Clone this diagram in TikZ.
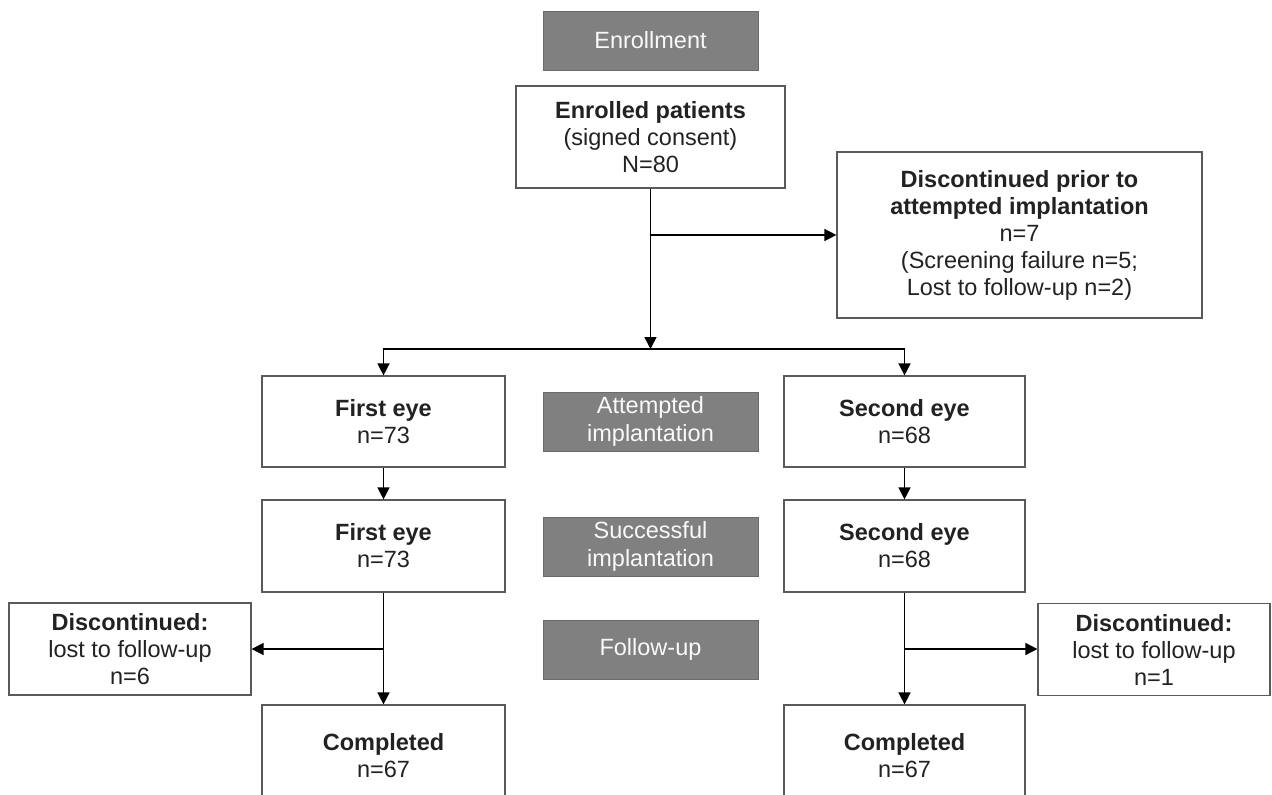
\documentclass[tikz,border=0pt]{standalone}
\usepackage{fontspec}
\setmainfont{Liberation Sans}
\usetikzlibrary{arrows.meta}
\definecolor{boxline}{HTML}{5A5A5A}
\definecolor{grayfill}{HTML}{808080}
\definecolor{grayline}{HTML}{6A6A6A}
\definecolor{txt}{HTML}{222222}
\begin{document}
\begin{tikzpicture}[x=1pt,y=-1pt,
  wbox/.style={draw=boxline,line width=1.2pt,fill=white,align=center,inner sep=0pt,
     font=\fontsize{23.5}{27}\selectfont,text=txt},
  gbox/.style={draw=grayline,line width=1pt,fill=grayfill,align=center,inner sep=0pt,
     minimum width=215pt,minimum height=59pt,font=\fontsize{23.5}{28}\selectfont,text=white!95!gray},
  conn/.style={line width=1.5pt,black},
  arr/.style={conn,-{Triangle[length=12pt,width=12pt]}}]
\useasboundingbox (0,0) rectangle (1272,795);
\clip (0,0) rectangle (1272,795);
\fill[white] (0,0) rectangle (1272,795);

\node[gbox] (enr) at (650.5,40.5) {Enrollment};
\node[wbox,minimum width=269pt,minimum height=102pt] (enrolled) at (650.5,137)
  {\textbf{Enrolled patients}\\(signed consent)\\N=80};
\node[wbox,minimum width=365pt,minimum height=166pt] (dprior) at (1019.5,235)
  {\textbf{Discontinued prior to}\\\textbf{attempted implantation}\\n=7\\(Screening failure n=5;\\Lost to follow-up n=2)};

\node[wbox,minimum width=243pt,minimum height=91pt] (fa) at (383.5,421.5) {\textbf{First eye}\\n=73};
\node[gbox] (att) at (650.5,421.5) {Attempted\\implantation};
\node[wbox,minimum width=241pt,minimum height=91pt] (sa) at (904.5,421.5) {\textbf{Second eye}\\n=68};

\node[wbox,minimum width=243pt,minimum height=92pt] (fb) at (383.5,546) {\textbf{First eye}\\n=73};
\node[gbox] (succ) at (650.5,546.5) {Successful\\implantation};
\node[wbox,minimum width=241pt,minimum height=92pt] (sb) at (904.5,546) {\textbf{Second eye}\\n=68};

\node[wbox,minimum width=242pt,minimum height=92pt] (dl) at (130,649) {\textbf{Discontinued:}\\lost to follow-up\\n=6};
\node[gbox] (fu) at (650.5,649.5) {Follow-up};
\node[wbox,minimum width=232pt,minimum height=92pt] (dr) at (1154,649.5) {\textbf{Discontinued:}\\lost to follow-up\\n=1};

\node[wbox,minimum width=243pt,minimum height=101pt] (cl) at (383.5,755.5) {\textbf{Completed}\\n=67};
\node[wbox,minimum width=241pt,minimum height=101pt] (cr) at (904.5,755.5) {\textbf{Completed}\\n=67};

\coordinate (split) at (650.5,349);
\coordinate (bprior) at (650.5,235);
\coordinate (bl) at (383.5,649);
\coordinate (br) at (904.5,649);

\draw[arr] (enrolled.south) -- (split);
\draw[arr] (bprior) -- (dprior.west |- bprior);
\draw[arr] (split) -| (fa.north);
\draw[arr] (split) -| (sa.north);
\draw[arr] (fa.south) -- (fb.north);
\draw[arr] (sa.south) -- (sb.north);
\draw[arr] (fb.south) -- (cl.north);
\draw[arr] (sb.south) -- (cr.north);
\draw[arr] (bl) -- (dl.east |- bl);
\draw[arr] (br) -- (dr.west |- br);
\end{tikzpicture}
\end{document}
